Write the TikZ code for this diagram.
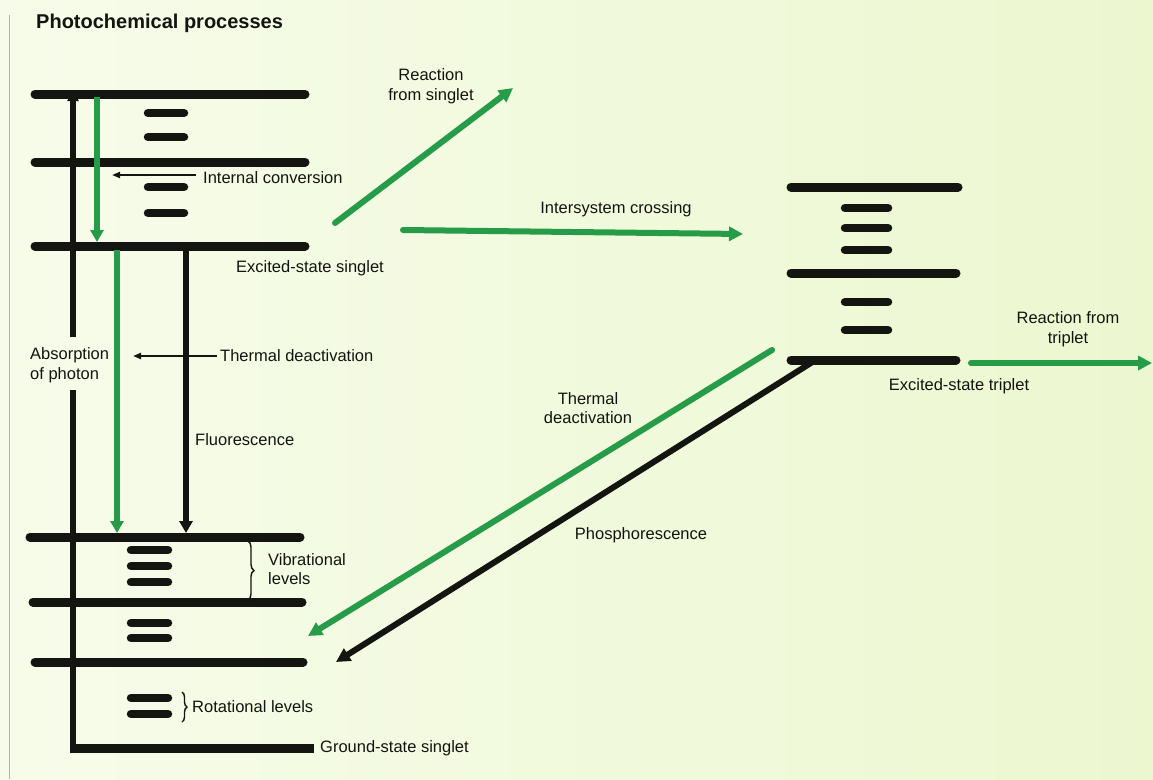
\documentclass[tikz,border=0pt]{standalone}
\usepackage{fontspec}
\setmainfont{Liberation Sans}
\usetikzlibrary{arrows.meta,decorations.pathreplacing}
\definecolor{paperL}{RGB}{247,252,234}
\definecolor{paperR}{RGB}{236,247,208}
\definecolor{leafgreen}{RGB}{38,156,72}
\definecolor{ink}{RGB}{20,20,16}
\begin{document}
\begin{tikzpicture}[x=1pt,y=-1pt,
  level/.style={line width=9pt, ink, line cap=round},
  sublevel/.style={line width=8.5pt, ink, line cap=round},
  stem/.style={line width=6pt, ink},
  garrow/.style={line width=6pt, leafgreen, -{Triangle[length=14pt,width=14pt]}},
  gvert/.style={line width=5.5pt, leafgreen, -{Triangle[length=12pt,width=13pt]}},
  karrow/.style={line width=6pt, ink, -{Triangle[length=14pt,width=14pt]}},
  kvert/.style={line width=5.5pt, ink, -{Triangle[length=12pt,width=13pt]}},
  thin/.style={line width=2.2pt, ink, -{Triangle[length=8pt,width=6pt]}},
  lbl/.style={text=ink, font=\fontsize{16.5}{19.5}\selectfont, inner sep=0pt},
  brc/.style={ink, line width=1.4pt, decorate, decoration={brace, amplitude=6pt}}
]
% paper
\shade[left color=paperL, right color=paperR] (0,0) rectangle (1153,779);
\useasboundingbox (0,0) rectangle (1153,779);
\draw[gray!60, line width=1pt] (9,15) -- (9,779);

% title
\node[lbl, anchor=west, font=\fontsize{20}{24}\selectfont\bfseries] (title) at (36,23) {Photochemical processes};

% ---------- singlet manifold ----------
\draw[level] (35,94) -- (305,94);
\draw[level] (35,162) -- (305,162);
\draw[level] (35,246) -- (305,246);
\foreach \y in {113,137,187,213} \draw[sublevel] (148,\y) -- (184,\y);

% ---------- ground-state manifold ----------
\draw[level] (30,537) -- (300,537);
\draw[level] (33,602) -- (302,602);
\draw[level] (35,662) -- (303,662);
\foreach \y in {550,566,582,623,638,698,714} \draw[sublevel] (131,\y) -- (168,\y);

% absorption stem and ground-state line
\coordinate (abs-bot) at (73,748);
\coordinate (abs-gap1) at (73,390);
\coordinate (abs-gap2) at (73,337);
\coordinate (abs-top) at (73,91);
\draw[stem] (abs-bot) -- (abs-gap1);
\draw[level, line cap=butt] (70,748) -- (314,748);
\draw[stem, -{Triangle[length=10pt,width=11pt]}] (abs-gap2) -- (abs-top);

% internal conversion (green, top)
\coordinate (ic-s) at (97,97);
\coordinate (ic-e) at (97,242);
\draw[gvert] (ic-s) -- (ic-e);

% green and black drops to the ground manifold
\coordinate (gd-s) at (117,250);
\coordinate (gd-e) at (117,533);
\coordinate (fl-s) at (186,250);
\coordinate (fl-e) at (186,533);
\draw[gvert] (gd-s) -- (gd-e);
\draw[kvert] (fl-s) -- (fl-e);

% thin pointer arrows
\coordinate (icp-s) at (196,175);
\coordinate (icp-e) at (112,175);
\draw[thin] (icp-s) -- (icp-e);
\coordinate (tdp-s) at (217,356);
\coordinate (tdp-e) at (133,356);
\draw[thin] (tdp-s) -- (tdp-e);

% braces
\draw[brc] (248,541) -- (248,600);
\draw[brc, decoration={brace, amplitude=5pt}] (182,692) -- (182,722);

% ---------- triplet manifold ----------
\draw[level] (791,187) -- (958,187);
\draw[level] (791,273) -- (956,273);
\draw[level] (791,360) -- (956,360);
\foreach \y in {208,228,250,302,330} \draw[sublevel] (845,\y) -- (888,\y);

% ---------- inter-manifold arrows ----------
\coordinate (rs-s) at (335,223);
\coordinate (rs-e) at (513,88);
\draw[garrow, line cap=round] (rs-s) -- (rs-e);
\coordinate (isc-s) at (403,230);
\coordinate (isc-e) at (743,234);
\draw[garrow, line cap=round] (isc-s) -- (isc-e);
\coordinate (rt-s) at (971,363);
\coordinate (rt-e) at (1152,363);
\draw[garrow, line cap=round] (rt-s) -- (rt-e);
\coordinate (td-s) at (772,350);
\coordinate (td-e) at (308,636);
\draw[garrow, line cap=round] (td-s) -- (td-e);
\coordinate (ph-s) at (814,361);
\coordinate (ph-e) at (336,662);
\draw[karrow] (ph-s) -- (ph-e);

% ---------- labels ----------
\node[lbl, anchor=west] (l-ic) at (203,178) {Internal conversion};
\node[lbl, anchor=west] (l-ess) at (236,268) {Excited-state singlet};
\node[lbl, anchor=west, align=left] (l-abs) at (30,365) {Absorption\\of photon};
\node[lbl, anchor=west] (l-td1) at (220,356) {Thermal deactivation};
\node[lbl, anchor=west] (l-fl) at (195,440) {Fluorescence};
\node[lbl, anchor=west, align=left] (l-vib) at (268,569) {Vibrational\\levels};
\node[lbl, anchor=west] (l-rot) at (192,707) {Rotational levels};
\node[lbl, anchor=west] (l-gss) at (320,748) {Ground-state singlet};
\node[lbl, align=center] (l-rs) at (431,86) {Reaction\\from singlet};
\node[lbl] (l-isc) at (616,209) {Intersystem crossing};
\node[lbl, align=center] (l-rt) at (1068,329) {Reaction from\\triplet};
\node[lbl] (l-est) at (959,386) {Excited-state triplet};
\node[lbl, align=center] (l-td2) at (588,408) {Thermal\\deactivation};
\node[lbl] (l-ph) at (641,535) {Phosphorescence};
\end{tikzpicture}
\end{document}
